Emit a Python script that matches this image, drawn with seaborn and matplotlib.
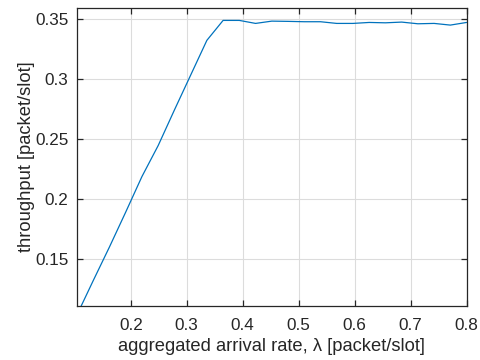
import matplotlib
matplotlib.use("Agg")
import matplotlib.pyplot as plt
import seaborn as sns
import pandas as pd

# aggregated arrival rate (packet/slot)
arrival_rate = [0.104, 0.133, 0.162, 0.191, 0.220, 0.249, 0.278, 0.307, 0.336,
                0.365, 0.394, 0.423, 0.452, 0.481, 0.510, 0.539, 0.568, 0.597,
                0.626, 0.655, 0.684, 0.713, 0.742, 0.771, 0.800]
# measured throughput (packet/slot)
throughput = [0.1035, 0.132, 0.160, 0.189, 0.2186, 0.2444, 0.274, 0.303, 0.332,
              0.3486, 0.3486, 0.3461, 0.3480, 0.3478, 0.3475, 0.3475, 0.3461, 0.3461,
              0.3469, 0.3466, 0.3472, 0.3458, 0.3461, 0.3447, 0.3469]

x_ticks = [0.2, 0.3, 0.4, 0.5, 0.6, 0.7, 0.8]
y_ticks = [0.15, 0.2, 0.25, 0.3, 0.35]
x_tick_labels = ["0.2", "0.3", "0.4", "0.5", "0.6", "0.7", "0.8"]
y_tick_labels = ["0.15", "0.2", "0.25", "0.3", "0.35"]

df = pd.DataFrame({"lam": arrival_rate, "thr": throughput})

sns.set_theme(style="ticks")
ink = "#262626"
plt.rcParams.update({
    "font.family": ["Liberation Sans", "DejaVu Sans"],
    "axes.edgecolor": ink,
    "axes.labelcolor": ink,
    "xtick.color": ink,
    "ytick.color": ink,
    "text.color": ink,
    "axes.linewidth": 0.9,
})

fig = plt.figure(figsize=(4.8, 3.6), dpi=100)
ax = fig.add_axes([0.160, 0.150, 0.812, 0.828])

sns.lineplot(data=df, x="lam", y="thr", ax=ax, color="#0072BD", linewidth=0.9)

ax.set_xlim(0.1036, 0.8)
ax.set_ylim(0.1108, 0.359)
ax.set_xticks(x_ticks)
ax.set_xticklabels(x_tick_labels)
ax.set_yticks(y_ticks)
ax.set_yticklabels(y_tick_labels)

ax.grid(True, color="#dcdcdc", linewidth=0.8)
ax.set_axisbelow(True)
ax.tick_params(direction="in", length=4, width=0.9, top=True, right=True,
               labelsize=12.3)
ax.tick_params(axis="x", pad=9)
ax.tick_params(axis="y", pad=6)

ax.set_xlabel("aggregated arrival rate, λ [packet/slot]", fontsize=13.2, labelpad=3)
ax.set_ylabel("throughput [packet/slot]", fontsize=13.2, labelpad=0)

fig.savefig("out.png", dpi=100)
